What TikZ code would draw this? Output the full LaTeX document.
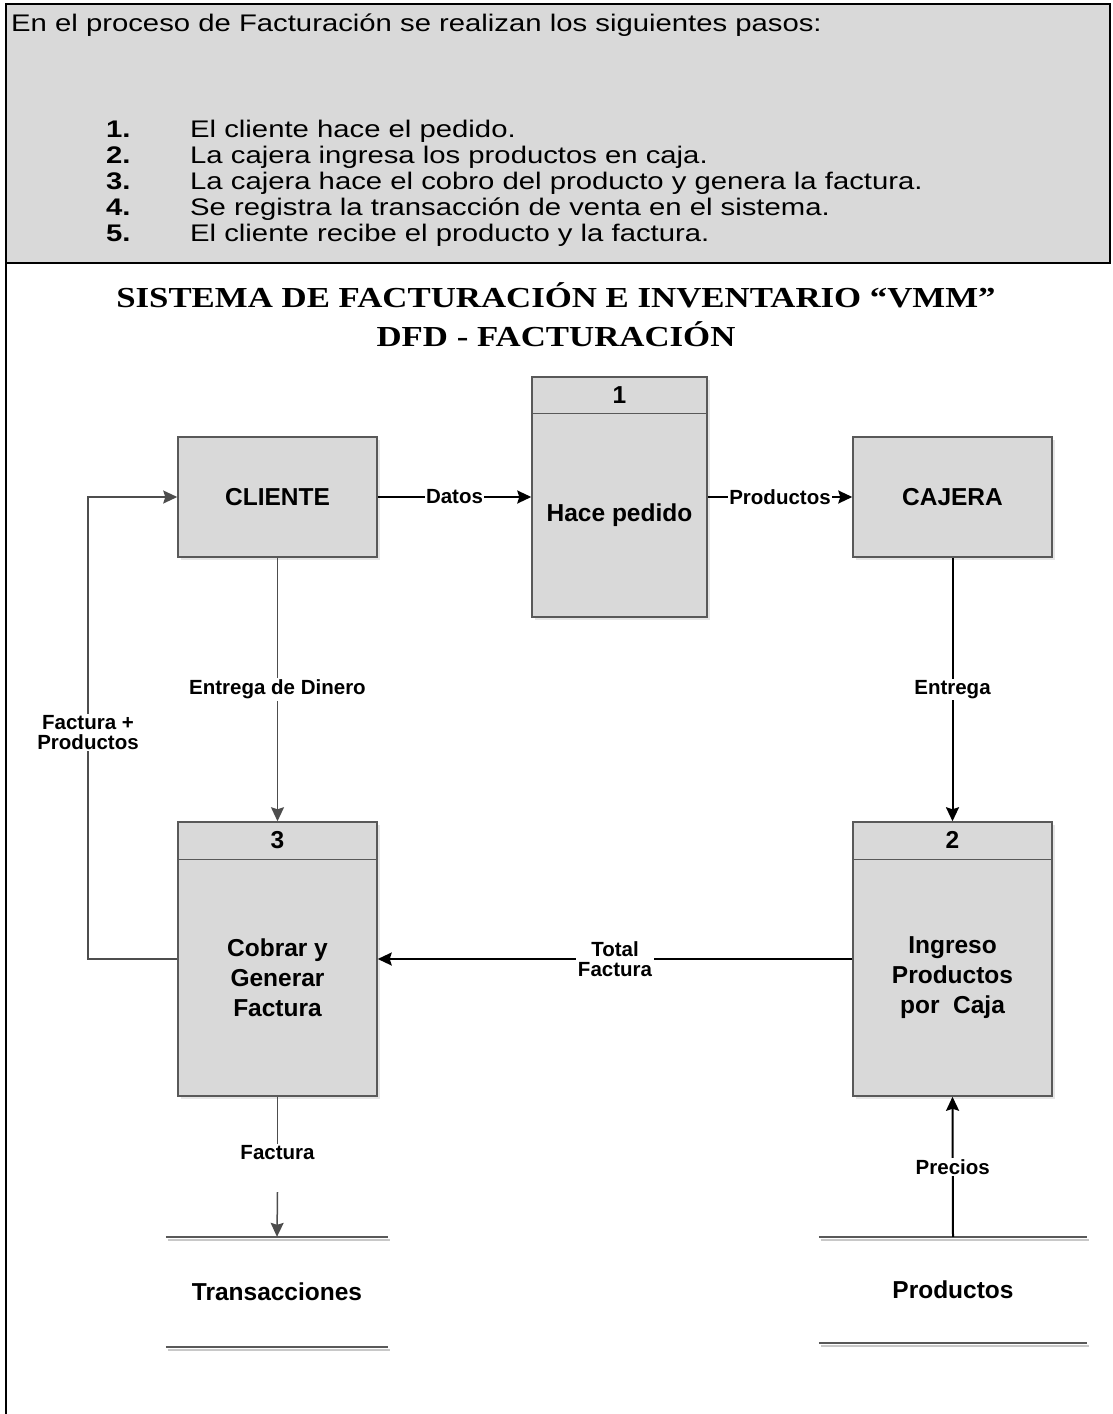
\documentclass[tikz,border=0pt]{standalone}
\usepackage{fontspec}
\setmainfont{Liberation Sans}
\newfontfamily\stretchsans[FakeStretch=1.22]{Liberation Sans}
\newfontfamily\titleserif[FakeStretch=1.2]{Liberation Serif}
\usetikzlibrary{arrows.meta,shadows}

\definecolor{panel}{HTML}{D9D9D9}
\definecolor{boxfill}{HTML}{D9D9D9}
\definecolor{boxline}{HTML}{595959}
\definecolor{shade}{HTML}{E6E6E6}
\definecolor{flowgray}{HTML}{4D4D4D}
\definecolor{storeshade}{HTML}{C8C8C8}

\begin{document}
\begin{tikzpicture}[x=1pt,y=-1pt,
  boxbase/.style={draw=boxline, fill=boxfill, line width=1.5pt, inner sep=0pt,
    drop shadow={shadow xshift=3pt, shadow yshift=-3pt, fill=shade, opacity=1}},
  entity/.style={boxbase, minimum width=199pt, minimum height=120pt,
    font=\fontsize{24.5}{30}\selectfont\bfseries},
  procbox/.style={boxbase},
  numtext/.style={font=\fontsize{24.5}{30}\selectfont\bfseries, inner sep=0pt},
  proctext/.style={font=\fontsize{24.5}{30}\selectfont\bfseries, align=center, inner sep=0pt},
  storebox/.style={minimum width=222pt, minimum height=110pt, inner sep=0pt,
    font=\fontsize{24.5}{30}\selectfont\bfseries},
  storeline/.style={draw=boxline, line width=1.5pt},
  storeshadow/.style={draw=storeshade, line width=1.5pt},
  lbl/.style={fill=white, inner sep=1.5pt, align=center,
    font=\fontsize{20.5}{20}\selectfont\bfseries},
  tip/.style={-{Stealth[length=14pt, width=13pt, inset=2pt]}},
  flowk/.style={tip, draw=black, line width=2pt},
  flowg/.style={tip, draw=flowgray, line width=1.5pt},
  stepnum/.style={anchor=base west, inner sep=0pt, font=\stretchsans\fontsize{24}{26}\selectfont\bfseries},
  steptext/.style={anchor=base west, inner sep=0pt, font=\stretchsans\fontsize{24}{26}\selectfont},
  titletext/.style={anchor=base, inner sep=0pt, font=\titleserif\fontsize{29}{34}\selectfont\bfseries}
]
\useasboundingbox (0,0) rectangle (1112,1414);

% ---- description panel ----
\draw[line width=2.5pt, fill=panel] (6,4) rectangle (1110,263);
\draw[line width=2.5pt] (6,263) -- (6,1414);

\node[steptext] (intro) at (11,31) {En el proceso de Facturación se realizan los siguientes pasos:};
\node[stepnum] (n1) at (106,137) {1.};
\node[steptext] (s1) at (190,137) {El cliente hace el pedido.};
\node[stepnum] (n2) at (106,163) {2.};
\node[steptext] (s2) at (190,163) {La cajera ingresa los productos en caja.};
\node[stepnum] (n3) at (106,189) {3.};
\node[steptext] (s3) at (190,189) {La cajera hace el cobro del producto y genera la factura.};
\node[stepnum] (n4) at (106,215) {4.};
\node[steptext] (s4) at (190,215) {Se registra la transacción de venta en el sistema.};
\node[stepnum] (n5) at (106,241) {5.};
\node[steptext] (s5) at (190,241) {El cliente recibe el producto y la factura.};

% ---- title ----
\node[titletext] (title1) at (556,307) {SISTEMA DE FACTURACIÓN E INVENTARIO “VMM”};
\node[titletext] (title2) at (556,346) {DFD - FACTURACIÓN};

% ---- external entities ----
\node[entity] (cliente) at (277.5,497) {CLIENTE};
\node[entity] (cajera) at (952.5,497) {CAJERA};

% ---- processes ----
\node[procbox, minimum width=175pt, minimum height=240pt] (p1) at (619.5,497) {};
\draw[boxline, line width=1.5pt] ([yshift=-37pt]p1.north west) -- ([yshift=-37pt]p1.north east);
\node[numtext] (p1n) at ([yshift=-18.5pt]p1.north) {1};
\node[proctext] (p1t) at (619.5,515.5) {Hace pedido};

\node[procbox, minimum width=199pt, minimum height=274pt] (p3) at (277.5,959) {};
\draw[boxline, line width=1.5pt] ([yshift=-38pt]p3.north west) -- ([yshift=-38pt]p3.north east);
\node[numtext] (p3n) at ([yshift=-19pt]p3.north) {3};
\node[proctext] (p3t) at (277.5,978) {Cobrar y\\Generar\\Factura};

\node[procbox, minimum width=199pt, minimum height=274pt] (p2) at (952.5,959) {};
\draw[boxline, line width=1.5pt] ([yshift=-38pt]p2.north west) -- ([yshift=-38pt]p2.north east);
\node[numtext] (p2n) at ([yshift=-19pt]p2.north) {2};
\node[proctext] (p2t) at (952.5,978) {Ingreso\\Productos\\por~~Caja};

% ---- data stores ----
\node[storebox] (ts) at (277,1292) {Transacciones};
\draw[storeshadow] ([shift={(2pt,-3pt)}]ts.north west) -- ([shift={(2pt,-3pt)}]ts.north east);
\draw[storeshadow] ([shift={(2pt,-3pt)}]ts.south west) -- ([shift={(2pt,-3pt)}]ts.south east);
\draw[storeline] (ts.north west) -- (ts.north east);
\draw[storeline] (ts.south west) -- (ts.south east);

\node[storebox, minimum width=268pt, minimum height=106pt] (ps) at (953,1290) {Productos};
\draw[storeshadow] ([shift={(2pt,-3pt)}]ps.north west) -- ([shift={(2pt,-3pt)}]ps.north east);
\draw[storeshadow] ([shift={(2pt,-3pt)}]ps.south west) -- ([shift={(2pt,-3pt)}]ps.south east);
\draw[storeline] (ps.north west) -- (ps.north east);
\draw[storeline] (ps.south west) -- (ps.south east);

% ---- data flows ----
\draw[flowk] (cliente.east) -- node[lbl] {Datos} (p1.west);
\draw[flowk] (p1.east) -- node[lbl] {Productos} (cajera.west);
\draw[flowg] (cliente.south) -- node[lbl] {Entrega de Dinero} (p3.north);
\draw[flowk] (cajera.south) -- node[lbl] {Entrega} (p2.north);
\draw[flowk] (p2.west) -- node[lbl] {Total\\Factura} (p3.east);

\coordinate (loopx) at (88,0);
\draw[flowg] (p3.west) -- (p3.west -| loopx)
  -- node[lbl, pos=0.49] {Factura +\\Productos} (cliente.west -| loopx)
  -- (cliente.west);

\node[lbl] (flab) at (277.5,1153) {Factura};
\coordinate (fgap) at (277.5,1192);
\draw[flowgray, line width=1.5pt] (p3.south) -- (flab.north);
\draw[flowg] (fgap) -- (ts.north);

\draw[flowk] (ps.north) -- node[lbl] {Precios} (p2.south);
\end{tikzpicture}
\end{document}
